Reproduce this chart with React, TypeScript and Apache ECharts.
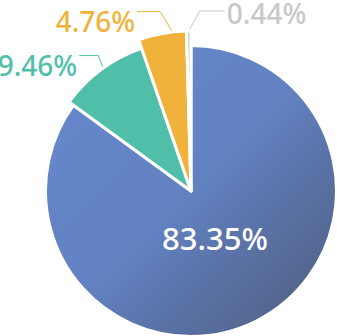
import React, { useEffect, useRef } from "react";
import * as echarts from "echarts";

const categories = ["Item A", "Item B", "Item C", "Item D"];
const values = [83.35, 9.46, 4.76, 0.44];
const colors = ["#6383C4", "#4FBFAA", "#F0B23A", "#C8C8C8"];
const radii = [145.5, 151, 160, 160];

// label-line styling per slice: anchor shift, first segment, horizontal segment, text offset
const lineStyles: Record<number, { shift: number[]; seg1: number[]; seg2: number; textDy: number }> = {
  1: { shift: [2, -1], seg1: [-5, -13], seg2: -19, textDy: 9 },
  2: { shift: [10, -2], seg1: [-12, -20], seg2: -23, textDy: 9.5 },
  3: { shift: [0, 0], seg1: [11, -20], seg2: 25, textDy: 1.5 },
};

export default function App() {
  const ref = useRef<HTMLDivElement>(null);
  useEffect(() => {
    document.body.style.margin = "0";
    if (!ref.current) return;
    const chart = echarts.init(ref.current, undefined, { renderer: "svg" });
    const blueGrad = new echarts.graphic.LinearGradient(0, 0, 1, 1, [
      { offset: 0, color: "#6789CD" },
      { offset: 0.5, color: "#6181C1" },
      { offset: 1, color: "#4E5A7A" },
    ]);
    const font = "'Noto Sans', sans-serif";
    const center = [191, 191];
    const sliceSeries = categories.map((_, i) => ({
      type: "pie",
      center,
      radius: radii[i],
      startAngle: 90,
      clockwise: true,
      avoidLabelOverlap: false,
      silent: true,
      z: 2 + i,
      labelLayout:
        i === 0
          ? undefined
          : (p: any) => {
              const pts = p.labelLinePoints;
              if (!pts) return {};
              const s = lineStyles[i];
              const a = [pts[0][0] + s.shift[0], pts[0][1] + s.shift[1]];
              const b = [a[0] + s.seg1[0], a[1] + s.seg1[1]];
              const c = [b[0] + s.seg2, b[1]];
              const right = s.seg2 > 0;
              return {
                x: right ? c[0] + 2 : c[0] - 2,
                y: c[1] + s.textDy,
                align: right ? "left" : "right",
                verticalAlign: "middle",
                labelLinePoints: [a, b, c],
              };
            },
      data: values.map((v, j) => ({
        name: categories[j],
        value: v,
        itemStyle:
          j === i
            ? {
                color: j === 0 ? blueGrad : colors[j],
                borderColor: "#ffffff",
                borderWidth: 3,
              }
            : { color: "rgba(0,0,0,0)", borderWidth: 0 },
        label: {
          show: j === i && i !== 0,
          position: "outside",
          formatter: "{c}%",
          color: colors[j],
          fontSize: 28,
          fontFamily: font,
          fontWeight: 500,
        },
        labelLine: {
          show: j === i && i !== 0,
          length: 12,
          length2: 20,
          lineStyle: { color: colors[j], width: 1 },
        },
      })),
    }));
    const labelSeries = {
      type: "pie",
      center,
      radius: 100,
      startAngle: 90,
      clockwise: true,
      silent: true,
      z: 10,
      data: values.map((v, j) => ({
        name: categories[j],
        value: v,
        itemStyle: { color: "rgba(0,0,0,0)", borderWidth: 0 },
        label: {
          show: j === 0,
          position: "inside",
          formatter: "{c}%",
          color: "#ffffff",
          fontSize: 31,
          fontFamily: font,
          fontWeight: 500,
        },
        labelLine: { show: false },
      })),
    };
    chart.setOption({
      animation: false,
      series: [...sliceSeries, labelSeries],
    });
    return () => chart.dispose();
  }, []);
  return <div ref={ref} style={{ width: 337, height: 336 }} />;
}
